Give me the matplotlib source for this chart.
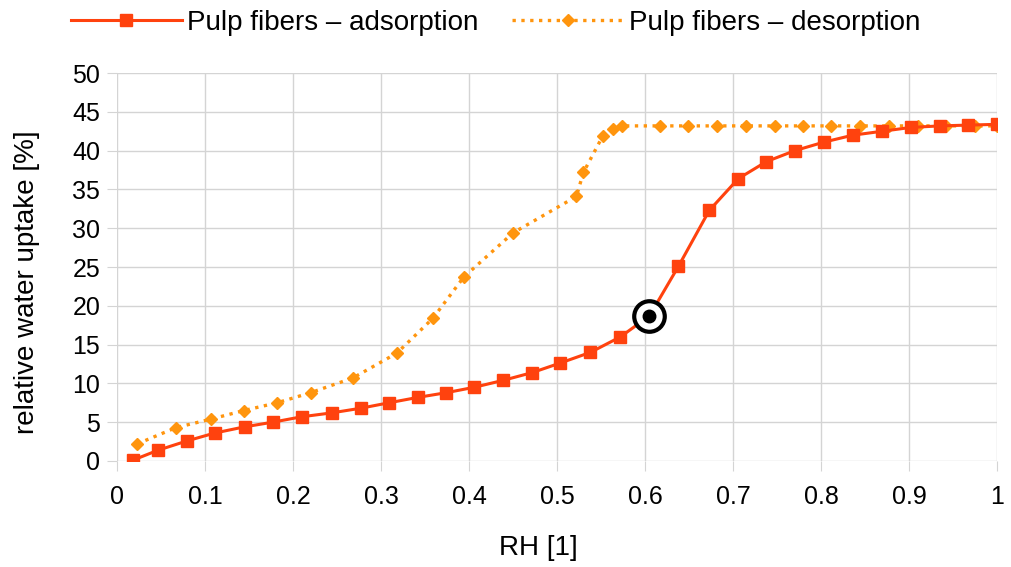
import matplotlib
matplotlib.use("Agg")
import matplotlib.pyplot as plt

plt.rcParams['font.family'] = ['Liberation Sans', 'DejaVu Sans']

# sorption isotherm of pulp fibers
ads_rh = [0.018, 0.047, 0.080, 0.111, 0.145, 0.177, 0.210, 0.244, 0.277, 0.309,
          0.342, 0.374, 0.406, 0.439, 0.472, 0.503, 0.538, 0.572, 0.605, 0.638,
          0.673, 0.706, 0.738, 0.770, 0.803, 0.836, 0.869, 0.902, 0.935, 0.967, 1.0]
ads_wu = [0.1, 1.4, 2.6, 3.6, 4.4, 5.0, 5.7, 6.2, 6.8, 7.5,
          8.2, 8.8, 9.5, 10.4, 11.4, 12.6, 14.0, 16.0, 18.7, 25.1,
          32.3, 36.4, 38.6, 40.0, 41.1, 42.0, 42.5, 43.0, 43.2, 43.3, 43.4]

des_rh = [0.023, 0.067, 0.107, 0.144, 0.182, 0.220, 0.268, 0.318, 0.359, 0.394,
          0.450, 0.522, 0.530, 0.552, 0.564, 0.574, 0.617, 0.649, 0.682, 0.715,
          0.748, 0.780, 0.811, 0.844, 0.877, 0.910, 0.942, 0.975, 1.0]
des_wu = [2.2, 4.3, 5.4, 6.5, 7.5, 8.8, 10.7, 13.9, 18.4, 23.7,
          29.4, 34.1, 37.2, 41.9, 42.8, 43.2, 43.2, 43.2, 43.2, 43.2,
          43.2, 43.2, 43.2, 43.2, 43.2, 43.2, 43.2, 43.2, 43.2]

# marked point on the adsorption branch
mark_rh = 0.605
mark_wu = 18.7

x_ticks = [0, 0.1, 0.2, 0.3, 0.4, 0.5, 0.6, 0.7, 0.8, 0.9, 1]
x_labels = ['0', '0.1', '0.2', '0.3', '0.4', '0.5', '0.6', '0.7', '0.8', '0.9', '1']
y_ticks = [0, 5, 10, 15, 20, 25, 30, 35, 40, 45, 50]

fig = plt.figure(figsize=(10.11, 5.67), dpi=100)
ax = fig.add_axes([0.1157, 0.187, 0.8705, 0.684])

ax.plot(des_rh, des_wu, color='#FF950E', linestyle=':', linewidth=2.4,
        marker='D', markersize=6.5, label='Pulp fibers – desorption', zorder=3)
ax.plot(ads_rh, ads_wu, color='#FF420E', linestyle='-', linewidth=2.2,
        marker='s', markersize=8.5, label='Pulp fibers – adsorption', zorder=4)

ax.plot(mark_rh, mark_wu, marker='o', markersize=22, markerfacecolor='white',
        markeredgecolor='black', markeredgewidth=3, zorder=5)
ax.plot(mark_rh, mark_wu, marker='o', markersize=9, color='black', zorder=6)

ax.set_xlim(0, 1)
ax.set_ylim(0, 50)
ax.set_xticks(x_ticks)
ax.set_xticklabels(x_labels)
ax.set_yticks(y_ticks)
ax.grid(True, color='#d4d4d4', linewidth=1)
ax.set_axisbelow(True)
for s in ax.spines.values():
    s.set_visible(False)
ax.tick_params(axis='both', length=7, color='#d4d4d4', labelsize=18)
ax.tick_params(axis='x', pad=10)
ax.tick_params(axis='y', pad=5)

# axis titles placed in pixel terms relative to the plot box (0..1 → 880 px, 0..50 → 388 px)
ax.set_xlabel('RH [1]', fontsize=20, va='center')
ax.xaxis.set_label_coords((538 - 117) / 880, -(548 - 461) / 388)
ax.set_ylabel('relative water uptake [%]', fontsize=20, va='center')
ax.yaxis.set_label_coords((27 - 117) / 880, (461 - 282) / 388)

handles, labels = ax.get_legend_handles_labels()
fig.legend(handles[::-1], labels[::-1], loc='upper center', bbox_to_anchor=(0.49, 1.027),
           ncol=2, frameon=False, fontsize=20, handlelength=4, handletextpad=0.2,
           columnspacing=1.2)

fig.savefig('out.png', dpi=100)
